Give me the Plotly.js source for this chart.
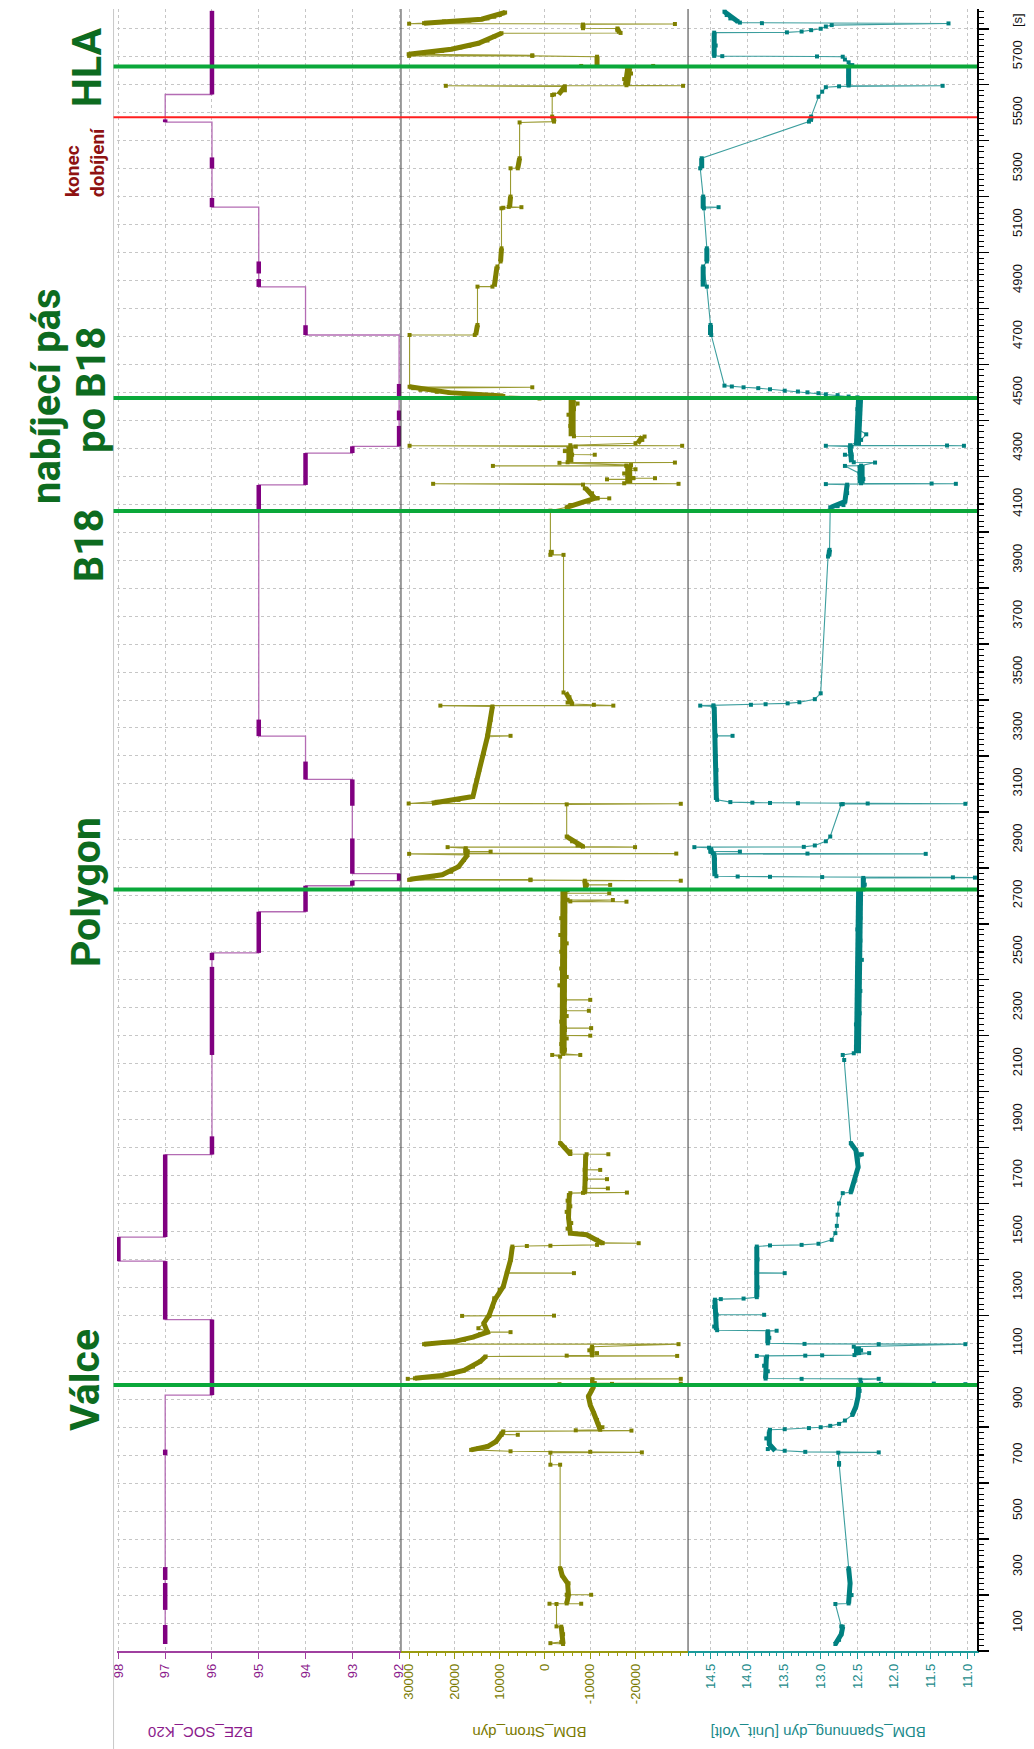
<!DOCTYPE html>
<html>
<head>
<meta charset="utf-8">
<script src="https://cdn.plot.ly/plotly-3.0.1.min.js"></script>
<style>
  html, body { margin: 0; padding: 0; background: #ffffff; }
  #chart { width: 1034px; height: 1749px; }
</style>
</head>
<body>
<div id="chart"></div>
<script>
// ---- state of charge (step signal): [time s, SOC %] ----
const socSteps = [
  [25,97],[915,96],[1185,97],[1394,98],[1480,97],[1775,96],[2496,95],[2643,94],
  [2736,93],[2754,92],[2779,93],[3116,94],[3271,95],[4169,94],[4283,93],[4307,92],
  [4705,94],[4877,95],[5162,96],[5466,97],[5565,96],[5864,96]
];
// densely sampled stretches of the SOC signal: [SOC %, from s, to s]
const socDense = [
  [97,25,93],[97,147,243],[97,254,300],[97,700,720],[96,915,1185],[97,1185,1394],
  [98,1394,1480],[97,1480,1775],[96,1775,1840],[96,2131,2446],[96,2470,2496],
  [95,2496,2643],[94,2643,2736],[93,2736,2754],[92,2754,2779],[93,2779,2905],
  [93,3022,3116],[94,3116,3180],[95,3271,3330],[95,4075,4169],[94,4169,4283],
  [93,4283,4307],[92,4307,4380],[92,4400,4435],[92,4485,4530],[94,4705,4740],
  [95,4877,4905],[95,4925,4968],[96,5162,5195],[96,5300,5340],[97,5466,5476],
  [96,5565,5864]
];

// ---- battery current samples: [time s, current] ----
const currentSamples = [
  [25,-4000],[28,-1200],[32,-3600],[60,-4000],[87,-3600],[88,-2550],[168,-2550],[169,-1000],
  [169,-8000],[170,-4800],[201,-4800],[201,-10200],[202,-5000],[242,-5200],[270,-3800],[296,-3350],
  [666,-3350],[666,-1200],[709,-1200],[710,-21400],[712,-10000],[714,7600],[719,16300],[725,14700],
  [731,12700],[749,10800],[773,9600],[773,6000],[774,9600],[785,9200],[788,-19100],[789,-6800],
  [791,-12200],[800,-12700],[812,-11800],[826,-11500],[850,-10800],[880,-10000],[910,-9600],[930,-10200],
  [952,-10800],[954,-3200],[955,-14800],[956,-30000],[958,-11000],[965,-10400],[972,-10500],[973,-30000],
  [973,30300],[975,28700],[981,24700],[985,22700],[991,20300],[1003,17900],[1017,15900],[1035,14300],
  [1053,13100],[1055,-29200],[1056,-4800],[1057,-10400],[1065,-11500],[1075,-9800],[1088,-10400],[1097,-29500],
  [1097,26700],[1101,24700],[1103,22300],[1107,19900],[1112,17900],[1122,15900],[1133,14300],[1140,12700],
  [1140,7600],[1141,12700],[1154,14700],[1172,13500],[1198,12300],[1198,18300],[1199,-2000],[1200,12300],
  [1232,11500],[1255,11100],[1261,11200],[1291,10000],[1303,9200],[1351,8400],[1351,-6400],[1352,8400],
  [1398,7600],[1446,7200],[1448,4000],[1449,-1200],[1452,-11500],[1458,-12700],[1458,-20700],[1459,-12700],
  [1470,-11500],[1488,-9200],[1494,-5600],[1510,-5000],[1530,-5800],[1550,-5200],[1570,-4800],[1590,-5600],
  [1610,-5000],[1630,-5400],[1637,-5600],[1638,-8400],[1639,-18100],[1640,-8800],[1654,-8800],[1654,-13900],
  [1655,-8800],[1687,-9000],[1687,-13700],[1688,-9000],[1720,-8800],[1720,-12200],[1721,-8800],[1760,-9000],
  [1776,-9200],[1776,-14000],[1777,-5600],[1786,-5600],[1800,-4400],[1816,-3350],[2125,-3350],[2131,-1600],
  [2131,-7800],[2135,-4000],[2150,-4400],[2170,-3600],[2190,-4800],[2200,-4000],[2200,-10000],[2201,-4000],
  [2220,-4400],[2227,-4400],[2227,-10200],[2228,-4400],[2250,-3600],[2270,-4800],[2289,-4400],[2289,-9700],
  [2290,-4400],[2310,-3800],[2328,-4400],[2328,-10000],[2329,-4400],[2350,-4000],[2380,-3200],[2410,-4800],
  [2440,-3600],[2470,-4400],[2500,-3600],[2530,-4800],[2560,-3400],[2590,-4400],[2620,-3600],[2650,-4400],
  [2679,-4000],[2679,-18000],[2680,-5600],[2685,-15000],[2686,-5000],[2700,-4000],[2709,-4400],[2709,-14200],
  [2710,-4400],[2720,-5000],[2725,-9000],[2739,-9200],[2739,-14400],[2740,-9200],[2754,-8800],[2754,-30000],
  [2756,3200],[2757,30000],[2758,3200],[2759,29700],[2763,27100],[2769,24700],[2775,22700],[2786,20700],
  [2804,19100],[2828,17900],[2846,17100],[2850,30000],[2851,-29000],[2852,17500],[2858,17100],[2858,12000],
  [2859,17100],[2870,17500],[2874,21500],[2874,-19900],[2876,-8400],[2880,-7200],[2895,-6000],[2912,-4800],
  [3027,-4800],[3029,-30000],[3030,30100],[3036,23900],[3043,19100],[3055,15900],[3091,15500],[3114,15100],
  [3150,14500],[3210,13500],[3269,12700],[3272,7600],[3273,12700],[3329,12000],[3377,11600],[3380,23100],
  [3380,-15100],[3383,-10800],[3386,-6000],[3391,-5000],[3410,-5400],[3427,-4100],[3919,-4100],[3919,-1200],
  [4077,-1200],[4089,-4800],[4097,-5600],[4109,-9600],[4121,-11600],[4121,-14200],[4122,-11600],[4139,-10400],
  [4157,-8800],[4170,-8400],[4173,24700],[4173,-29500],[4175,-17500],[4189,-18500],[4189,-13700],[4190,-18500],
  [4193,-19500],[4193,-24300],[4194,-19500],[4210,-17500],[4225,-20000],[4237,-18000],[4237,11500],[4238,-18000],
  [4240,-19000],[4248,-3200],[4249,-28700],[4250,-5000],[4260,-5600],[4277,-6000],[4277,-11000],[4278,-5800],
  [4290,-4400],[4306,-6800],[4309,29900],[4309,-30300],[4311,-5600],[4318,-20000],[4330,-21500],[4342,-22000],
  [4343,-6400],[4360,-6000],[4380,-5600],[4401,-6000],[4420,-5200],[4440,-6400],[4460,-7200],[4478,-6000],
  [4478,1200],[4479,-6000],[4487,9200],[4490,12000],[4491,15100],[4495,17900],[4499,21100],[4502,23900],
  [4509,27500],[4515,29100],[4518,2800],[4519,29500],[4520,29900],[4705,29900],[4705,15500],[4741,14900],
  [4878,14900],[4878,11600],[4900,11000],[4950,10500],[4968,9800],[5015,9600],[5158,9600],[5160,9200],
  [5162,5200],[5163,8000],[5200,7600],[5301,7600],[5301,6000],[5337,5600],[5465,5600],[5468,-2000],
  [5486,-1600],[5563,-1600],[5565,-2000],[5580,-4400],[5594,-4400],[5596,21900],[5596,-30500],[5598,-18000],
  [5620,-17500],[5640,-19000],[5660,-18500],[5667,-8000],[5667,-23900],[5669,-11500],[5690,-11500],[5700,-11500],
  [5703,2800],[5703,30000],[5705,2800],[5709,30100],[5712,26700],[5716,24700],[5721,22700],[5727,20700],
  [5733,18700],[5739,16700],[5748,14700],[5758,12700],[5772,11200],[5784,9600],[5785,-16700],[5795,-16000],
  [5801,-16000],[5802,-8400],[5815,-8400],[5817,-28700],[5818,30000],[5820,26700],[5826,22300],[5829,16700],
  [5834,14000],[5837,12700],[5843,11200],[5849,10000],[5858,8800]
];
// densely sampled current stretches (drawn as a heavy trace)
const currentDense = [
  [[25,-4000],[60,-3800],[87,-3600]],
  [[170,-4800],[200,-5200],[242,-5000],[270,-3800],[296,-3400]],
  [[719,16300],[731,12700],[749,10800],[773,9600],[785,9200]],
  [[791,-12200],[812,-11800],[850,-10800],[880,-10000],[910,-9600],[946,-10800]],
  [[975,28700],[985,22700],[1003,17900],[1035,14300],[1053,13100]],
  [[1060,-10400],[1088,-10400]],
  [[1097,26700],[1107,19900],[1122,15900],[1140,12700],[1172,13500],[1202,12300],[1255,11100],[1303,9200],[1351,8400],[1398,7600],[1446,7200]],
  [[1458,-12700],[1488,-9200],[1494,-5600],[1550,-5200],[1637,-5400]],
  [[1640,-8800],[1776,-9000]],
  [[1777,-5600],[1816,-3400]],
  [[2725,-9000],[2754,-8800]],
  [[2759,29700],[2775,22700],[2804,19100],[2846,17100]],
  [[2852,17500],[2870,17500]],
  [[2876,-8400],[2912,-4800]],
  [[3031,25000],[3055,15900],[3150,14500],[3269,12700],[3377,11600]],
  [[3386,-6000],[3427,-4600]],
  [[3919,-1400],[3937,-1400]],
  [[4089,-4800],[4121,-11000],[4157,-9000]],
  [[4318,-20500],[4342,-21500]],
  [[4487,9200],[4499,21100],[4520,29900]],
  [[4705,15300],[4741,14900]],
  [[4878,11200],[4950,10600]],
  [[4968,9800],[5015,9600]],
  [[5163,7800],[5200,7600]],
  [[5301,6000],[5337,5600]],
  [[5468,-2000],[5486,-1800]],
  [[5565,-3000],[5594,-4400]],
  [[5669,-11500],[5700,-11500]],
  [[5709,30100],[5727,20700],[5748,14700],[5784,9600]],
  [[5785,-16500],[5801,-16000]],
  [[5802,-8400],[5815,-8400]],
  [[5820,26700],[5834,14000],[5858,8800]]
];
// noisy current stretches with a wider spread
const currentNoisy = [
  [[2135,-4000],[2720,-4200]],
  [[4175,-18500],[4240,-18500]],
  [[4250,-5500],[4306,-5500]],
  [[4343,-6000],[4478,-6000]],
  [[5598,-18000],[5660,-18500]]
];

// ---- battery voltage samples: [time s, volt] ----
const voltageSamples = [
  [25,12.80],[40,12.75],[60,12.72],[87,12.70],[88,12.72],[168,12.80],[170,12.62],[200,12.58],
  [242,12.60],[296,12.62],[666,12.75],[672,12.75],[709,12.76],[710,12.21],[712,13.21],[716,13.49],
  [722,13.72],[740,13.70],[760,13.74],[785,13.70],[791,13.69],[793,13.49],[797,13.16],[800,13.00],
  [805,12.87],[812,12.75],[824,12.67],[844,12.57],[874,12.52],[910,12.49],[930,12.47],[952,12.48],
  [954,11.03],[955,12.18],[956,11.46],[958,12.45],[970,12.46],[973,12.21],[973,13.26],[974,13.75],
  [981,13.75],[1000,13.72],[1020,13.77],[1053,13.73],[1055,13.87],[1056,13.21],[1057,12.98],[1058,12.54],
  [1065,12.34],[1066,12.50],[1075,12.45],[1088,12.55],[1097,11.03],[1097,12.21],[1098,13.22],[1100,13.72],
  [1120,13.70],[1143,13.72],[1145,13.60],[1147,14.41],[1160,14.45],[1202,14.42],[1202,13.77],[1203,14.42],
  [1230,14.45],[1256,14.44],[1258,14.36],[1260,14.05],[1265,13.87],[1300,13.86],[1351,13.87],[1351,13.49],
  [1352,13.87],[1400,13.86],[1446,13.87],[1450,13.69],[1452,13.26],[1456,13.03],[1470,12.85],[1494,12.80],
  [1520,12.78],[1560,12.77],[1600,12.75],[1637,12.70],[1640,12.59],[1680,12.54],[1730,12.49],[1774,12.46],
  [1776,12.44],[1790,12.52],[1816,12.59],[2113,12.68],[2131,12.70],[2137,12.55],[2160,12.52],[2200,12.48],
  [2240,12.52],[2280,12.47],[2320,12.50],[2360,12.46],[2400,12.50],[2440,12.47],[2471,12.44],[2500,12.49],
  [2540,12.46],[2580,12.50],[2620,12.46],[2660,12.48],[2700,12.46],[2720,12.47],[2723,12.42],[2740,12.40],
  [2757,12.42],[2764,12.42],[2765,10.90],[2766,11.20],[2767,12.98],[2768,13.69],[2769,14.13],[2770,14.42],
  [2800,14.45],[2830,14.44],[2849,14.45],[2850,11.57],[2851,13.18],[2852,14.47],[2858,14.50],[2858,14.10],
  [2859,14.50],[2872,14.52],[2874,14.72],[2875,13.23],[2880,13.08],[2895,12.93],[2912,12.87],[3027,12.72],
  [3028,12.70],[3029,11.03],[3030,12.36],[3031,13.31],[3032,13.69],[3033,13.93],[3035,14.23],[3043,14.41],
  [3100,14.43],[3150,14.42],[3200,14.43],[3272,14.43],[3272,14.20],[3273,14.43],[3330,14.45],[3377,14.46],
  [3380,14.64],[3381,14.46],[3383,13.95],[3385,13.75],[3388,13.45],[3392,13.29],[3403,13.08],[3424,13.00],
  [3913,12.90],[3937,12.88],[4077,12.88],[4089,12.87],[4093,12.77],[4097,12.69],[4110,12.67],[4140,12.64],
  [4170,12.64],[4172,12.93],[4173,11.16],[4174,11.49],[4175,12.45],[4190,12.42],[4210,12.47],[4237,12.67],
  [4238,12.45],[4249,12.26],[4250,12.55],[4270,12.58],[4277,12.67],[4278,12.58],[4290,12.60],[4306,12.58],
  [4309,12.93],[4309,11.05],[4310,11.28],[4311,12.60],[4330,12.45],[4350,12.38],[4370,12.50],[4401,12.47],
  [4440,12.50],[4482,12.50],[4485,12.62],[4490,12.77],[4493,12.93],[4497,13.03],[4500,13.18],[4503,13.31],
  [4506,13.49],[4511,13.69],[4515,13.85],[4518,14.05],[4521,14.21],[4524,14.31],[4705,14.49],[4741,14.50],
  [4878,14.55],[4950,14.60],[4968,14.55],[5015,14.55],[5158,14.59],[5162,14.39],[5163,14.60],[5200,14.60],
  [5301,14.64],[5337,14.62],[5468,13.16],[5486,13.13],[5557,13.03],[5575,12.98],[5591,12.93],[5594,12.75],
  [5596,11.34],[5597,12.62],[5630,12.62],[5667,12.60],[5670,12.57],[5680,12.62],[5690,12.67],[5700,12.70],
  [5701,13.05],[5702,14.34],[5703,14.45],[5740,14.43],[5786,14.45],[5787,13.46],[5790,13.26],[5795,13.13],
  [5800,13.00],[5808,12.93],[5813,12.85],[5819,11.26],[5820,13.80],[5822,14.10],[5826,14.13],[5837,14.23],
  [5849,14.28],[5861,14.31]
];
const voltageDense = [
  [[25,12.80],[60,12.72],[87,12.70]],
  [[170,12.62],[242,12.60],[296,12.62]],
  [[716,13.62],[740,13.70],[785,13.70]],
  [[844,12.57],[874,12.52],[910,12.49],[954,12.48]],
  [[974,13.75],[1053,13.74]],
  [[1100,13.72],[1143,13.72]],
  [[1147,14.42],[1256,14.44]],
  [[1265,13.87],[1446,13.87]],
  [[1640,12.59],[1730,12.49],[1790,12.52],[1816,12.59]],
  [[2723,12.42],[2764,12.42]],
  [[2770,14.44],[2846,14.45]],
  [[2852,14.48],[2872,14.50]],
  [[3043,14.42],[3377,14.45]],
  [[3913,12.89],[3937,12.88]],
  [[4089,12.86],[4110,12.67],[4170,12.64]],
  [[4250,12.58],[4306,12.60]],
  [[4705,14.50],[4741,14.50]],
  [[4878,14.60],[4950,14.60]],
  [[4968,14.55],[5015,14.55]],
  [[5158,14.60],[5200,14.60]],
  [[5301,14.62],[5337,14.62]],
  [[5468,13.14],[5486,13.13]],
  [[5597,12.62],[5667,12.62]],
  [[5703,14.45],[5786,14.45]],
  [[5826,14.13],[5861,14.31]]
];
const voltageNoisy = [
  [[1058,12.50],[1088,12.50]],
  [[2137,12.50],[2720,12.47]],
  [[4175,12.45],[4240,12.45]],
  [[4311,12.50],[4482,12.47]]
];

// ---- value axis tick positions ----
const socTicks = [98, 97, 96, 95, 94, 93, 92];
const currentTicks = [30000, 20000, 10000, 0, -10000, -20000];
const voltageTicks = [14.5, 14.0, 13.5, 13.0, 12.5, 12.0, 11.5, 11.0];

// ---- events along the drive ----
const sectionTimes = [951, 2723, 4076, 4480, 5665];   // green markers
const chargeEndTime = 5484;                            // red marker
const timeMax = 5870.6;

// ---- styling ----
const SOC_COL = '#800080', SOC_LINE = '#b46cb4';
const CUR_COL = '#808000', CUR_LINE = '#9a9a30';
const VOL_COL = '#008080', VOL_LINE = '#3c9e9e';
const GRID = '#c6c6c6';
const TXT_GREEN = '#0d6b1f';
const LABEL_FONT = 'Roboto, "DejaVu Sans Condensed", sans-serif';
const BASE = '"Liberation Sans", Arial, sans-serif';

const dom1 = [0, 0.3302], dom2 = [0.3302, 0.664], dom3 = [0.664, 1];

function segs(list) {
  const x = [], y = [];
  list.forEach(seg => { seg.forEach(p => { y.push(p[0]); x.push(p[1]); }); y.push(null); x.push(null); });
  return {x, y};
}

const traces = [];
// SOC: thin step line plus heavy sampled stretches
traces.push({
  x: socSteps.map(p => p[1]), y: socSteps.map(p => p[0]), xaxis: 'x', yaxis: 'y',
  mode: 'lines', line: {color: SOC_LINE, width: 1.3, shape: 'vh'}, hoverinfo: 'skip'
});
(function () {
  const x = [], y = [];
  socDense.forEach(d => { x.push(d[0], d[0], null); y.push(d[1], d[2], null); });
  traces.push({x, y, xaxis: 'x', yaxis: 'y', mode: 'lines', line: {color: SOC_COL, width: 4.5}, hoverinfo: 'skip'});
})();

// current
traces.push({
  x: currentSamples.map(p => p[1]), y: currentSamples.map(p => p[0]), xaxis: 'x2', yaxis: 'y',
  mode: 'lines+markers', line: {color: CUR_LINE, width: 1.1},
  marker: {symbol: 'square', size: 4, color: CUR_COL}, hoverinfo: 'skip'
});
(function () {
  const a = segs(currentDense);
  traces.push({x: a.x, y: a.y, xaxis: 'x2', yaxis: 'y', mode: 'lines', line: {color: CUR_COL, width: 5}, hoverinfo: 'skip'});
  const b = segs(currentNoisy);
  traces.push({x: b.x, y: b.y, xaxis: 'x2', yaxis: 'y', mode: 'lines', line: {color: CUR_COL, width: 7}, hoverinfo: 'skip'});
})();

// voltage
traces.push({
  x: voltageSamples.map(p => p[1]), y: voltageSamples.map(p => p[0]), xaxis: 'x3', yaxis: 'y',
  mode: 'lines+markers', line: {color: VOL_LINE, width: 1.1},
  marker: {symbol: 'square', size: 4, color: VOL_COL}, hoverinfo: 'skip'
});
(function () {
  const a = segs(voltageDense);
  traces.push({x: a.x, y: a.y, xaxis: 'x3', yaxis: 'y', mode: 'lines', line: {color: VOL_COL, width: 5}, hoverinfo: 'skip'});
  const b = segs(voltageNoisy);
  traces.push({x: b.x, y: b.y, xaxis: 'x3', yaxis: 'y', mode: 'lines', line: {color: VOL_COL, width: 7}, hoverinfo: 'skip'});
})();
// carrier for the long time ticks
traces.push({x: [], y: [], xaxis: 'x3', yaxis: 'y2', mode: 'lines', hoverinfo: 'skip'});

// time axis ticks: grid every 100 s, labels on odd hundreds, long ticks every 200 s
const timeTickVals = [], timeTickText = [], longTickVals = [];
for (let t = 100; t <= 5800; t += 100) {
  timeTickVals.push(t);
  timeTickText.push(t % 200 === 100 ? String(t) : '');
}
for (let t = 0; t <= 5800; t += 200) longTickVals.push(t);

function valueAxis(dom, range, ticks, minorDtick, col, lblCol, fmt) {
  return {
    domain: dom, range: range, anchor: 'y', side: 'bottom',
    showline: true, linecolor: col, linewidth: 1.5,
    ticks: 'outside', ticklen: 6, tickcolor: col, tickwidth: 1,
    tickmode: 'array', tickvals: ticks, ticktext: ticks.map(v => fmt(v)),
    tickangle: -90, tickfont: {family: BASE, size: 13, color: lblCol},
    showgrid: true, gridcolor: GRID, griddash: '3px,3px', gridwidth: 1,
    zeroline: false, fixedrange: true,
    minor: minorDtick ? {tickmode: 'linear', tick0: 0, dtick: minorDtick, ticks: 'outside', ticklen: 3, tickcolor: col, showgrid: false} : undefined
  };
}

const shapes = [];
// panel separators and outer frame
shapes.push({type: 'line', xref: 'paper', yref: 'paper', x0: dom2[0], x1: dom2[0], y0: 0, y1: 1, line: {color: '#3a3a3a', width: 1}});
shapes.push({type: 'line', xref: 'paper', yref: 'paper', x0: dom3[0], x1: dom3[0], y0: 0, y1: 1, line: {color: '#3a3a3a', width: 1}});
shapes.push({type: 'line', xref: 'paper', yref: 'paper', x0: -0.004, x1: -0.004, y0: -0.06, y1: 1, line: {color: '#c8c8c8', width: 1}});
// section markers
sectionTimes.forEach(t => shapes.push({
  type: 'line', xref: 'paper', yref: 'y', x0: -0.004, x1: 1, y0: t, y1: t,
  line: {color: '#0aa83a', width: 4}, layer: 'above'
}));
shapes.push({type: 'line', xref: 'paper', yref: 'y', x0: -0.004, x1: 1, y0: chargeEndTime, y1: chargeEndTime,
  line: {color: '#ff1f1f', width: 2}, layer: 'above'});

function sideLabel(text, x, y, size, color, align) {
  return {text: text, xref: 'paper', yref: 'paper', x: x, y: y, showarrow: false, textangle: -90,
    xanchor: 'center', yanchor: 'middle', align: align || 'center',
    font: {family: LABEL_FONT, size: size, color: color, weight: 'bold'}};
}
function axisTitle(text, x, color) {
  return {text: text, xref: 'paper', yref: 'paper', x: x, y: -0.05, showarrow: false, textangle: 180,
    xanchor: 'center', yanchor: 'middle', font: {family: BASE, size: 15, color: color}};
}

const annotations = [
  sideLabel('HLA', -0.0349, 0.9647, 41, TXT_GREEN),
  sideLabel('konec<br>dobíjení', -0.0372, 0.9068, 19, '#8e1212', 'left'),
  sideLabel('nabíjecí pás', -0.0826, 0.7643, 40, TXT_GREEN),
  sideLabel('po B18', -0.029, 0.7680, 40, TXT_GREEN),
  sideLabel('B18', -0.0326, 0.6736, 41, TXT_GREEN),
  sideLabel('Polygon', -0.036, 0.4622, 41, TXT_GREEN),
  sideLabel('Válce', -0.0372, 0.1650, 41, TXT_GREEN),
  axisTitle('BZE_SOC_K20', 0.0977, '#8b1a8b'),
  axisTitle('BDM_Strom_dyn', 0.480, '#7a7a00'),
  axisTitle('BDM_Spannung_dyn [Unit_Volt]', 0.815, '#1a8a8a'),
  {text: '[s]', xref: 'paper', yref: 'paper', x: 1.0465, y: 0.9933, showarrow: false, textangle: -90,
    xanchor: 'center', yanchor: 'middle', font: {family: BASE, size: 13, color: '#111'}}
];

const layout = {
  width: 1034, height: 1749,
  margin: {l: 117, r: 57, t: 9, b: 98, pad: 0},
  paper_bgcolor: '#ffffff', plot_bgcolor: '#ffffff',
  showlegend: false,
  font: {family: BASE, size: 13, color: '#111'},
  xaxis: valueAxis(dom1, [98.03, 91.96], socTicks, null, '#a040a0', '#8b1a8b', v => String(v)),
  xaxis2: valueAxis(dom2, [31800, -31600], currentTicks, 2000, '#9a9a10', '#7a7a00', v => String(v)),
  xaxis3: valueAxis(dom3, [14.806, 10.872], voltageTicks, 0.1, '#1a9a9a', '#1a8a8a', v => v.toFixed(1)),
  yaxis: {
    range: [0, timeMax], anchor: 'x3', side: 'right',
    showline: true, linecolor: '#000', linewidth: 1.5,
    tickmode: 'array', tickvals: timeTickVals, ticktext: timeTickText,
    ticks: 'outside', ticklen: 5, tickcolor: '#000', tickwidth: 1.5,
    tickangle: -90, tickfont: {family: BASE, size: 13, color: '#111'}, ticklabelstandoff: 23,
    showgrid: true, gridcolor: GRID, griddash: '3px,3px', gridwidth: 1, zeroline: false, fixedrange: true,
    minor: {tickmode: 'linear', tick0: 0, dtick: 20, ticks: 'outside', ticklen: 5, tickcolor: '#000', tickwidth: 1, showgrid: false}
  },
  yaxis2: {
    range: [0, timeMax], overlaying: 'y', anchor: 'x3', side: 'right',
    tickmode: 'array', tickvals: longTickVals, ticks: 'outside', ticklen: 11, tickwidth: 1.5, tickcolor: '#000',
    showticklabels: false, showgrid: false, zeroline: false, showline: false, fixedrange: true
  },
  shapes: shapes,
  annotations: annotations
};

Plotly.newPlot('chart', traces, layout, {staticPlot: true, displayModeBar: false});
</script>
</body>
</html>
